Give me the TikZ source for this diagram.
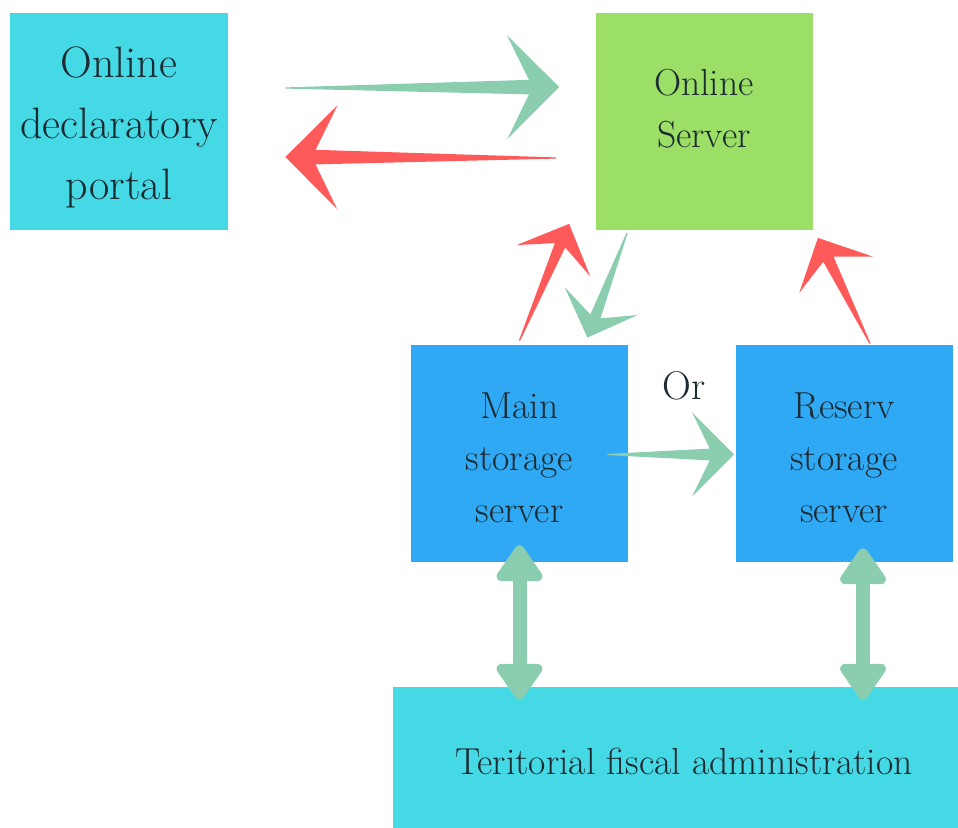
\documentclass[tikz,border=0pt]{standalone}
\usepackage{tikz}
\usetikzlibrary{calc,arrows.meta}

\definecolor{portalcyan}{HTML}{45D8E5}
\definecolor{srvgreen}{HTML}{9BDF66}
\definecolor{storeblue}{HTML}{2FA9F4}
\definecolor{mint}{HTML}{8ACEAF}
\definecolor{redarrow}{HTML}{FF5A5A}
\definecolor{inktext}{HTML}{1C2A31}

% tapered arrow: colour, head size, tail, tip
\newcommand\fatarrow[4]{%
  \coordinate (fa notch) at ($(#4)!0.58*#2!(#3)$);
  \coordinate (fa barb) at ($(#4)!#2!(#3)$);
  \fill[#1] ($(#3)!0.3pt!90:(#4)$)
    -- ($(fa notch)!0.14*#2!90:(#4)$)
    -- ($(fa barb)!#2!90:(#4)$)
    -- (#4)
    -- ($(fa barb)!#2!-90:(#4)$)
    -- ($(fa notch)!0.14*#2!-90:(#4)$)
    -- ($(#3)!0.3pt!-90:(#4)$) -- cycle;}

\begin{document}
\begin{tikzpicture}
      [x=0.5pt,y=-0.5pt,
       box/.style={rectangle,inner sep=0pt,minimum width=108.5pt,minimum height=108.5pt},
       boxtext/.style={align=center,text=inktext,font=\fontsize{18.8}{26}\selectfont},
       dbl/.style={mint,line width=7pt,
         {Triangle[round,length=20pt,width=26pt]}-{Triangle[round,length=20pt,width=26pt]}}]
        \useasboundingbox (0,0) rectangle (958,828);

        \node[box,fill=portalcyan,minimum width=109pt] (portal) at (119,122) {};
        \node[boxtext,font=\fontsize{22}{30.5}\selectfont] (portaltext) at (119,127) {Online\\declaratory\\portal};
        \node[box,fill=srvgreen] (server) at (704,122) {};
        \node[boxtext] (servertext) at (704,109) {Online\\Server};
        \node[box,fill=storeblue] (main) at (519.5,453.5) {};
        \node[boxtext] (maintext) at (519.5,458) {Main\\storage\\server};
        \node[box,fill=storeblue] (reserv) at (844,453.5) {};
        \node[boxtext] (reservtext) at (844,458) {Reserv\\storage\\server};
        \node[box,fill=portalcyan,minimum width=282.5pt,minimum height=70.5pt] (fiscal) at (675.5,757.5) {};
        \node[boxtext] (fiscaltext) at (684,761) {Teritorial fiscal administration};
        \node[boxtext,font=\fontsize{20}{24}\selectfont] (orlabel) at (684,386) {Or};

        \coordinate (sendtail) at ([shift={(57,-34)}]portal.east);
        \coordinate (sendtip) at ([shift={(-36,-35)}]server.west);
        \coordinate (backtail) at ([shift={(-39,36)}]server.west);
        \coordinate (backtip) at ([shift={(57,35)}]portal.east);
        \coordinate (uptail) at ([shift={(0,-4)}]main.north);
        \coordinate (uptip) at ([shift={(-26,-7)}]server.south west);
        \coordinate (downtail) at ([shift={(32,2)}]server.south west);
        \coordinate (downtip) at ([shift={(-41,-7)}]main.north east);
        \coordinate (rtail) at ([shift={(26,-1)}]reserv.north);
        \coordinate (rtip) at ([shift={(5,7)}]server.south east);
        \coordinate (ortail) at ([shift={(-21,1)}]main.east);
        \coordinate (ortip) at ([shift={(-1,1)}]reserv.west);

        \fatarrow{mint}{26pt}{sendtail}{sendtip}
        \fatarrow{redarrow}{26pt}{backtail}{backtip}
        \fatarrow{redarrow}{20pt}{uptail}{uptip}
        \fatarrow{mint}{19.5pt}{downtail}{downtip}
        \fatarrow{redarrow}{20.5pt}{rtail}{rtip}
        \fatarrow{mint}{21pt}{ortail}{ortip}

        \draw[dbl] ($(main.south)+(0,-17)$) -- ($(main.south |- fiscal.north)+(0,13)$);
        \draw[dbl] ($(reserv.south)+(19,-14)$) -- ($(reserv.south |- fiscal.north)+(19,13)$);

      \end{tikzpicture}
\end{document}
